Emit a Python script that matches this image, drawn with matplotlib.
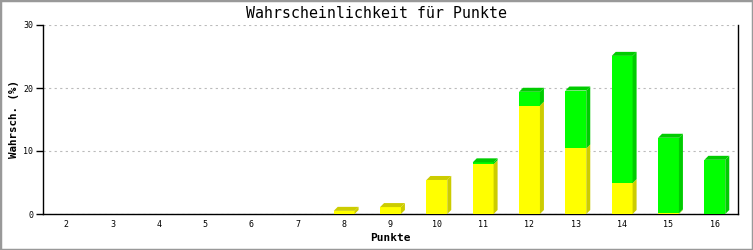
import numpy as np
import matplotlib
matplotlib.use('Agg')
import matplotlib.pyplot as plt
from matplotlib.patches import Polygon, Rectangle

punkte = ['2', '3', '4', '5', '6', '7', '8', '9', '10', '11', '12', '13', '14', '15', '16']
gelb = [0, 0, 0, 0, 0, 0, 0.5, 1.1, 5.4, 7.9, 17.2, 10.4, 4.9, 0.1, 0]
gruen = [0, 0, 0, 0, 0, 0, 0, 0, 0, 0.3, 2.2, 9.2, 20.2, 12.0, 8.6]
yticks = [0, 10, 20, 30]

plt.rcParams['font.family'] = ['DejaVu Sans Mono']

fig = plt.figure(figsize=(7.53, 2.5), dpi=100)
ax = fig.add_axes([43/753, 36/250, 695/753, 189/250])
fig.patches.append(Rectangle((0, 0), 1, 1, transform=fig.transFigure,
                             fill=False, edgecolor='#999999', linewidth=2.5))

x = np.arange(len(punkte))
w = 0.45
ax.set_xlim(-0.5, len(punkte) - 0.5)
ax.set_ylim(0, 30)

# 3D depth in data units (about 4 px)
dx = 4 / (695 / len(punkte))
dy = 4 / (189 / 30)

farben = [(gelb, '#ffff00', '#cccc00'), (gruen, '#00ff00', '#00cc00')]
for i in x:
    unten = 0
    oben_farbe = None
    for werte, front, seite in farben:
        h = werte[i]
        if h <= 0:
            continue
        x0, x1 = i - w / 2, i + w / 2
        ax.bar(i, h, w, bottom=unten, color=front, linewidth=0, zorder=3)
        ax.add_patch(Polygon([(x1, unten), (x1 + dx, unten + dy), (x1 + dx, unten + h + dy), (x1, unten + h)],
                             closed=True, facecolor=seite, edgecolor='none', zorder=3))
        unten += h
        oben_farbe = seite
    if oben_farbe:
        x0, x1 = i - w / 2, i + w / 2
        ax.add_patch(Polygon([(x0, unten), (x0 + dx, unten + dy), (x1 + dx, unten + dy), (x1, unten)],
                             closed=True, facecolor=oben_farbe, edgecolor='none', zorder=3))

ax.set_xticks(x)
ax.set_xticklabels(punkte, fontsize=6)
ax.tick_params(axis='x', length=0, pad=4)
ax.set_yticks(yticks)
ax.set_yticklabels([str(t) for t in yticks], fontsize=6)
ax.tick_params(axis='y', length=5, width=1, pad=2)
ax.grid(axis='y', color='#bbbbbb', linestyle=(0, (2, 3)), linewidth=0.8, zorder=0)
ax.spines['top'].set_visible(False)
for s in ['left', 'bottom', 'right']:
    ax.spines[s].set_linewidth(1)
    ax.spines[s].set_color('black')

fig.text(0.5, 1 - 13/250, 'Wahrscheinlichkeit für Punkte', fontsize=10.7,
         ha='center', va='center')
ax.set_xlabel('Punkte', fontsize=8, fontweight='bold', labelpad=3)
ax.set_ylabel('Wahrsch. (%)', fontsize=7.8, fontweight='bold', labelpad=3)

fig.savefig('out.png', dpi=100)
